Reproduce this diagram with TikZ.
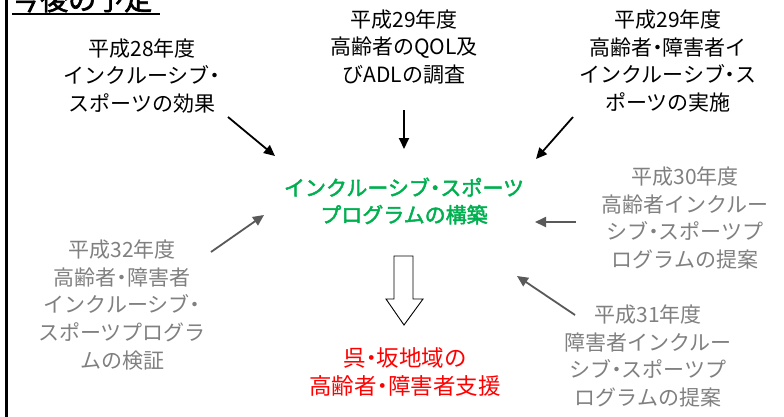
\documentclass[tikz,border=0pt]{standalone}
\usepackage{fontspec}
\setmainfont{Noto Sans CJK JP}[RawFeature=+halt]
\newfontfamily\jpb{Noto Sans CJK JP}[FakeBold=2.2,RawFeature=+halt]
\usetikzlibrary{arrows.meta}
\definecolor{txtgray}{RGB}{128,128,128}
\definecolor{arrgray}{RGB}{89,89,89}
\definecolor{grn}{RGB}{0,176,80}
\definecolor{rd}{RGB}{255,0,0}
\tikzset{
  lbl/.style={align=center,inner sep=0pt,font=\fontsize{21}{27.8}\selectfont},
  graylbl/.style={lbl,text=txtgray},
  arr/.style={line width=1.8pt,-{Triangle[length=11pt,width=10pt]}},
  garr/.style={arr,draw=arrgray},
}
\begin{document}
\begin{tikzpicture}[x=1pt,y=-1pt]
\useasboundingbox (0,0) rectangle (784,416);
\fill[white] (0,0) rectangle (784,416);
% left border
\draw[line width=3pt] (6.5,-2) -- (6.5,418);
% title
\node[anchor=base west,inner sep=0pt,font=\jpb\fontsize{28}{30}\selectfont] (title) at (12,10) {今後の予定};
\draw[line width=1.8pt] (12,14) -- (160,14);
% text blocks
\node[lbl] (b1) at (142,76) {平成28年度\\インクルーシブ・\\スポーツの効果};
\node[lbl] (b2) at (404,47) {平成29年度\\高齢者のQOL及\\びADLの調査};
\node[lbl] (b3) at (668,61) {平成29年度\\高齢者・障害者イ\\インクルーシブ・ス\\ポーツの実施};
\node[lbl,text=grn,font=\jpb\fontsize{21}{27}\selectfont] (center) at (404,201) {インクルーシブ・スポーツ\\プログラムの構築};
\node[graylbl] (b5) at (685,218) {平成30年度\\高齢者インクルー\\シブ・スポーツプ\\ログラムの提案};
\node[graylbl] (b6) at (122,305) {平成32年度\\高齢者・障害者\\インクルーシブ・\\スポーツプログラ\\ムの検証};
\node[graylbl] (b8) at (648,356) {平成31年度\\障害者インクルー\\シブ・スポーツプ\\ログラムの提案};
\node[lbl,text=rd,font=\fontsize{22.5}{28}\selectfont] (goal) at (405,372) {呉・坂地域の\\高齢者・障害者支援};
% arrow coordinates
\coordinate (a1s) at (228,117); \coordinate (a1e) at (275,156);
\coordinate (a2s) at (404,110); \coordinate (a2e) at (404,149);
\coordinate (a3s) at (573,117); \coordinate (a3e) at (536,159);
\coordinate (a4s) at (576,222); \coordinate (a4e) at (535,222);
\coordinate (a5s) at (575,315); \coordinate (a5e) at (517,276);
\coordinate (a6s) at (211,252); \coordinate (a6e) at (264,215);
\draw[arr] (a1s) -- (a1e);
\draw[arr] (a2s) -- (a2e);
\draw[arr] (a3s) -- (a3e);
\draw[garr] (a4s) -- (a4e);
\draw[garr] (a5s) -- (a5e);
\draw[garr] (a6s) -- (a6e);
% hollow down arrow
\draw[line width=0.9pt,fill=white] (394,256) -- (413,256) -- (413,299) -- (423,299) -- (404,325) -- (386,299) -- (394,299) -- cycle;
\end{tikzpicture}
\end{document}
